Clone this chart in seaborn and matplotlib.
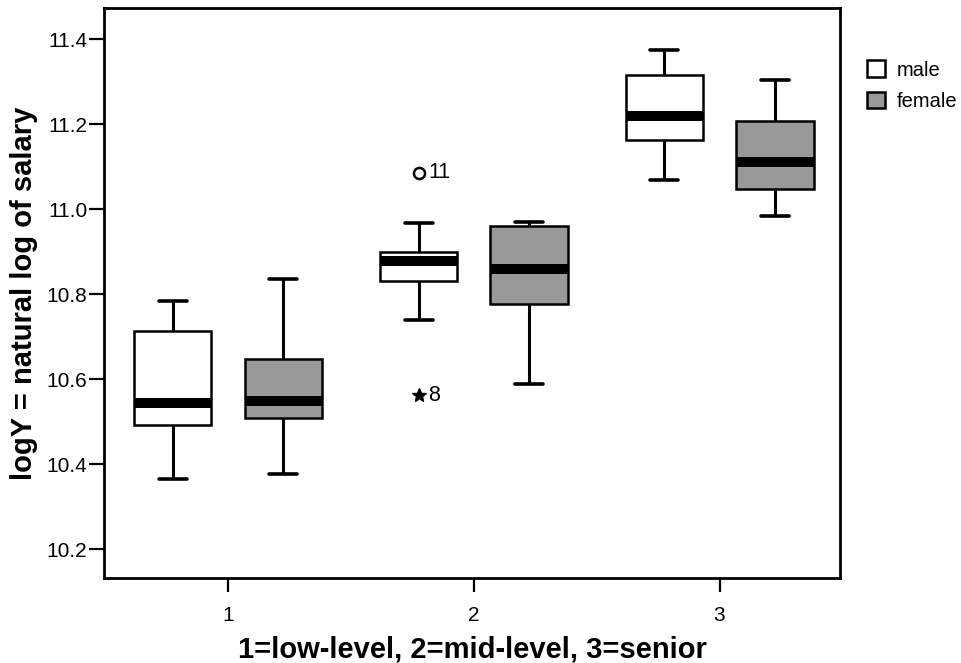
import numpy as np
import pandas as pd
import matplotlib
matplotlib.use("Agg")
import matplotlib.pyplot as plt
import seaborn as sns

# ---- data ----
rank_labels = ["1", "2", "3"]
sex_labels = ["male", "female"]
male_low = [10.365, 10.492, 10.544, 10.713, 10.784]
female_low = [10.376, 10.508, 10.548, 10.647, 10.835]
male_mid = [10.562, 10.739, 10.831, 10.860, 10.878, 10.890, 10.899, 10.967, 11.085]
female_mid = [10.588, 10.776, 10.859, 10.960, 10.969]
male_senior = [11.068, 11.162, 11.219, 11.315, 11.374]
female_senior = [10.984, 11.047, 11.111, 11.207, 11.304]
outlier_values = [11.085, 10.562]
outlier_ids = ["11", "8"]
y_ticks = [10.2, 10.4, 10.6, 10.8, 11.0, 11.2, 11.4]
fill_colors = ["white", "#999999"]

groups = [
    ("1", "male", male_low), ("1", "female", female_low),
    ("2", "male", male_mid), ("2", "female", female_mid),
    ("3", "male", male_senior), ("3", "female", female_senior),
]
rows = []
for rank, sex, vals in groups:
    for v in vals:
        rows.append({"rank": rank, "sex": sex, "logY": v})
df = pd.DataFrame(rows)

sns.set_style("ticks")
plt.rcParams["font.family"] = ["Liberation Sans", "DejaVu Sans"]
plt.rcParams["text.color"] = "black"
plt.rcParams["axes.labelcolor"] = "black"
plt.rcParams["xtick.color"] = "black"
plt.rcParams["ytick.color"] = "black"

fig = plt.figure(figsize=(9.62, 6.63), dpi=100)
ax = fig.add_axes([0.1081, 0.1282, 0.765, 0.8597])

sns.boxplot(
    data=df, x="rank", y="logY", hue="sex", order=rank_labels, hue_order=sex_labels,
    palette=dict(zip(sex_labels, fill_colors)), linecolor="black", linewidth=1.8,
    width=0.9, gap=0.30, whis=1.5, ax=ax, saturation=1,
    medianprops=dict(color="black", linewidth=7.2, solid_capstyle="butt"),
    whiskerprops=dict(color="black", linewidth=2.2),
    capprops=dict(color="black", linewidth=2.6),
    boxprops=dict(edgecolor="black", linewidth=1.8),
    flierprops=dict(marker="o", markersize=7),
    capwidths=0.114,
)

# replace fliers: circle for outliers, star for extremes, labelled with case id
q1, q3 = np.percentile(male_mid, [25, 75])
iqr = q3 - q1
for line in list(ax.lines):
    xd = np.asarray(line.get_xdata(), dtype=float)
    yd = np.asarray(line.get_ydata(), dtype=float)
    if line.get_linestyle() in ("None", "none", "") and len(xd) > 0:
        line.set_visible(False)
        for xv, yv in zip(xd, yd):
            extreme = (yv > q3 + 3 * iqr) or (yv < q1 - 3 * iqr)
            if extreme:
                ax.plot([xv], [yv], marker="*", color="black", markersize=10, linestyle="none")
            else:
                ax.plot([xv], [yv], marker="o", markerfacecolor="white", markeredgecolor="black",
                        markeredgewidth=1.8, markersize=8, linestyle="none")
            idx = int(np.argmin([abs(yv - o) for o in outlier_values]))
            ax.annotate(outlier_ids[idx], (xv, yv), xytext=(7, 0), textcoords="offset points",
                        va="center", ha="left", fontsize=15.5, color="black")

ax.set_xlim(-0.505, 2.49)
ax.set_ylim(10.132, 11.473)
ax.set_yticks(y_ticks)
ax.set_yticklabels([f"{t:.1f}" for t in y_ticks])
ax.set_xticks(range(len(rank_labels)))
ax.set_xticklabels(rank_labels)

for s in ax.spines.values():
    s.set_visible(True)
    s.set_linewidth(2.0)
    s.set_color("black")
ax.tick_params(axis="y", direction="out", length=11, width=1.6, pad=1, labelsize=15, colors="black")
ax.tick_params(axis="x", direction="out", length=10, width=1.6, pad=10, labelsize=15, colors="black")

ax.set_xlabel("1=low-level, 2=mid-level, 3=senior", fontsize=21, fontweight="bold", labelpad=8,
              color="black")
ax.set_ylabel("logY = natural log of salary", fontsize=21, fontweight="bold", labelpad=6,
              color="black")

handles, labels = ax.get_legend_handles_labels()
if ax.get_legend() is not None:
    ax.get_legend().remove()
leg = fig.legend(handles, labels, loc="upper left", bbox_to_anchor=(0.901, 0.909),
                 bbox_transform=fig.transFigure, frameon=False, fontsize=14.5,
                 handlelength=0.9, handleheight=0.9, handletextpad=0.6, labelspacing=0.6,
                 borderaxespad=0, borderpad=0)
for t in leg.get_texts():
    t.set_color("black")

fig.savefig("out.png", dpi=100)
